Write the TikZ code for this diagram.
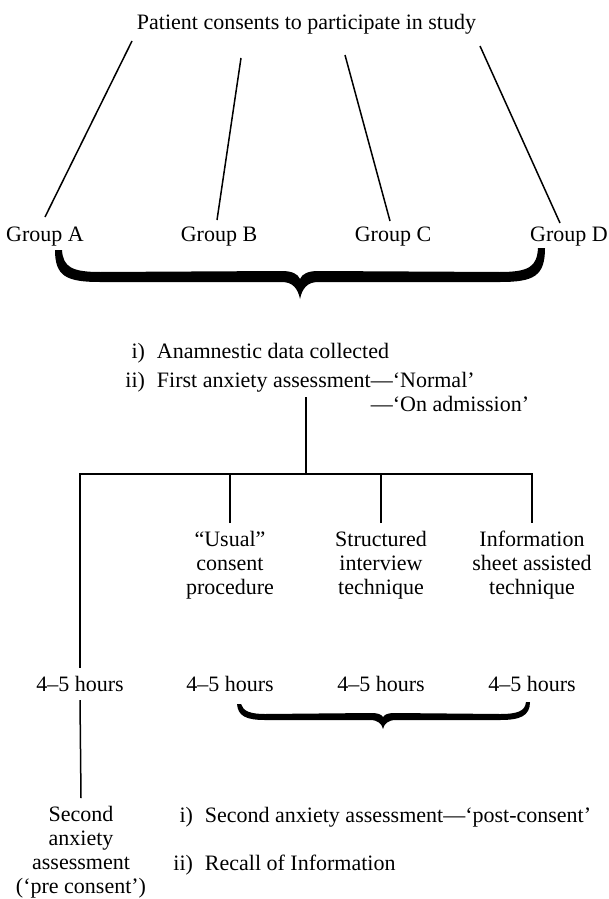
\documentclass[tikz,border=0pt]{standalone}
\usepackage{fontspec}
\setmainfont{Liberation Serif}
\usepackage{tikz}
\usetikzlibrary{positioning,calc}

\begin{document}
\begin{tikzpicture}[x=0.5pt,y=-0.5pt,
    every node/.style={font=\fontsize{11}{12}\selectfont},
    lbl/.style={inner sep=4pt},
    blk/.style={inner sep=4pt,align=center,anchor=north},
    lst/.style={inner sep=0pt,anchor=north west},
    ln/.style={line width=0.75pt}]
            \useasboundingbox (0,0) rectangle (609,899);

            % study entry and groups
            \node (title) at (306.5,24) {Patient consents to participate in study};
            \node[lbl] (gA) at (45,237)  {Group A};
            \node[lbl] (gB) at (219,237) {Group B};
            \node[lbl] (gC) at (393,237) {Group C};
            \node[lbl] (gD) at (569,237) {Group D};

            \coordinate (a0) at (132,41);  \coordinate (a1) at (45,217);
            \coordinate (b0) at (241,58);  \coordinate (b1) at (217,220);
            \coordinate (c0) at (345,55);  \coordinate (c1) at (390,221);
            \coordinate (d0) at (480,46);  \coordinate (d1) at (560,223);
            \draw[ln] (a0) -- (a1);
            \draw[ln] (b0) -- (b1);
            \draw[ln] (c0) -- (c1);
            \draw[ln] (d0) -- (d1);

            % brace under groups
            \fill (55,250) .. controls (55,276) and (66,282) .. (100,282) -- (282,282)
                .. controls (293,282) and (298,289) .. (300,299)
                .. controls (302,289) and (307,282) .. (318,282) -- (500,282)
                .. controls (534,282) and (545,276) .. (545,248) -- (538,248)
                .. controls (537,266) and (530,272) .. (500,272) -- (318,271)
                .. controls (308,271) and (302,274) .. (300,279)
                .. controls (298,274) and (292,271) .. (282,271) -- (100,272)
                .. controls (72,272) and (63,267) .. (62,250) -- cycle;

            % first assessment
            \node[lst] (anam) at (125,341) {\begin{tabular}{@{}r@{\hspace{6pt}}l@{}}
                i) & Anamnestic data collected \\[2.5pt]
                ii) & First anxiety assessment---`Normal' \\
                & \phantom{First anxiety assessment}---`On admission'
            \end{tabular}};

            % tree
            \coordinate (stem) at (306,397);
            \coordinate (hub) at (306,474);
            \node[blk] (usual)  at (230,523) {``Usual''\\consent\\procedure};
            \node[blk] (struct) at (381,523) {Structured\\interview\\technique};
            \node[blk] (info)   at (532,523) {Information\\sheet assisted\\technique};

            \node[lbl] (h0) at (80,684)  {4--5 hours};
            \node[lbl] (h1) at (230,684) {4--5 hours};
            \node[lbl] (h2) at (381,684) {4--5 hours};
            \node[lbl] (h3) at (532,684) {4--5 hours};

            \draw[ln] (stem) -- (hub);
            \draw[ln] (h0.north) |- (hub) -| (info.north);
            \draw[ln] (usual.north) -- (usual.north |- hub);
            \draw[ln] (struct.north) -- (struct.north |- hub);

            % brace under hours
            \fill (237,704) .. controls (238,716) and (246,720) .. (265,720) -- (370,720)
                .. controls (378,720) and (382,724) .. (383,729)
                .. controls (384,724) and (388,720) .. (396,720) -- (500,720)
                .. controls (520,720) and (530,716) .. (530,702) -- (526,702)
                .. controls (525,711) and (518,714) .. (500,714) -- (395,713)
                .. controls (389,713) and (385,714) .. (383,717)
                .. controls (381,714) and (377,713) .. (371,713) -- (265,714)
                .. controls (250,714) and (243,711) .. (241,704) -- cycle;

            % second assessment
            \node[blk] (second) at (81,798) {Second\\anxiety\\assessment\\(`pre consent')};
            \draw[ln] (h0.south) -- (second.north);

            \node[lst] (post) at (173,805) {\begin{tabular}{@{}r@{\hspace{6pt}}l@{}}
                i) & Second anxiety assessment---`post-consent' \\[12pt]
                ii) & Recall of Information
            \end{tabular}};
        \end{tikzpicture}
\end{document}
